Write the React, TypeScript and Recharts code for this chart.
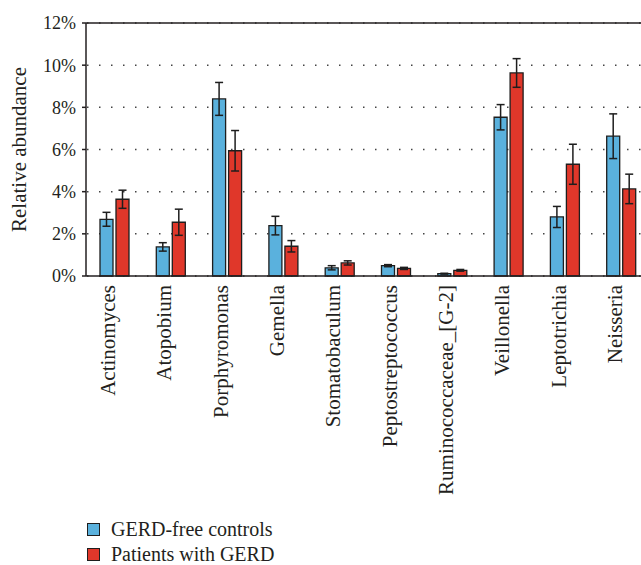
import React from "react"
import { BarChart, Bar, XAxis, YAxis, CartesianGrid, ErrorBar, ReferenceLine } from "recharts"

const genera = [
  "Actinomyces",
  "Atopobium",
  "Porphyromonas",
  "Gemella",
  "Stomatobaculum",
  "Peptostreptococcus",
  "Ruminococcaceae_[G-2]",
  "Veillonella",
  "Leptotrichia",
  "Neisseria",
]

// relative abundance in %, mean and error
const controls = [2.69, 1.38, 8.4, 2.39, 0.39, 0.49, 0.11, 7.53, 2.8, 6.63]
const controlsErr = [0.33, 0.2, 0.78, 0.44, 0.1, 0.05, 0.02, 0.6, 0.5, 1.06]
const patients = [3.64, 2.55, 5.94, 1.41, 0.62, 0.36, 0.27, 9.63, 5.3, 4.13]
const patientsErr = [0.43, 0.62, 0.96, 0.27, 0.1, 0.05, 0.04, 0.68, 0.95, 0.7]

const yTicks = [0, 2, 4, 6, 8, 10, 12]

const series = [
  { key: "controls", name: "GERD-free controls", color: "#5ab1dd" },
  { key: "patients", name: "Patients with GERD", color: "#e0372a" },
]

const data = genera.map((genus, i) => ({
  genus,
  controls: controls[i],
  controlsErr: controlsErr[i],
  patients: patients[i],
  patientsErr: patientsErr[i],
}))

const FONT = '"Liberation Serif", "Times New Roman", serif'
const INK = "#231f20"

const GenusTick = (props: any) => {
  const { x, y, payload } = props
  const tx = x + 1
  const ty = y + 1
  return (
    <text
      x={tx}
      y={ty}
      transform={`rotate(-90, ${tx}, ${ty})`}
      textAnchor="end"
      fontFamily={FONT}
      fontSize={21}
      fill={INK}
    >
      {payload.value}
    </text>
  )
}

const AxisTitle = (props: any) => {
  const { viewBox } = props
  const cx = viewBox.x + 26
  const cy = viewBox.y + viewBox.height / 2
  return (
    <text
      x={cx}
      y={cy}
      transform={`rotate(-90, ${cx}, ${cy})`}
      textAnchor="middle"
      fontFamily={FONT}
      fontSize={21}
      fill={INK}
    >
      Relative abundance
    </text>
  )
}

export default function App() {
  return (
    <div style={{ position: "absolute", left: 0, top: 0, width: 641, height: 565, overflow: "hidden", background: "#fff" }}>
      <BarChart
        width={660}
        height={520}
        data={data}
        margin={{ top: 23, right: 11, bottom: 0, left: 0 }}
        barSize={13}
        barGap={3}
      >
        <CartesianGrid
          vertical={false}
          stroke="#444"
          strokeWidth={1.5}
          strokeDasharray="1.5 10.5"
          strokeDashoffset={11}
        />
        <XAxis
          dataKey="genus"
          height={244}
          interval={0}
          tickLine={false}
          tick={<GenusTick />}
          stroke={INK}
          strokeWidth={1.5}
        />
        <YAxis
          width={86}
          domain={[0, 12]}
          ticks={yTicks}
          tickFormatter={(v: number) => `${v}%`}
          tickSize={4}
          tickMargin={6}
          tick={{ fontFamily: FONT, fontSize: 18, fill: INK }}
          stroke={INK}
          strokeWidth={1.5}
          label={<AxisTitle />}
        />
        <ReferenceLine y={12} stroke={INK} strokeWidth={1.5} />
        {series.map((s) => (
          <Bar
            key={s.key}
            dataKey={s.key}
            name={s.name}
            fill={s.color}
            stroke="#1e1e1e"
            strokeWidth={1.3}
            isAnimationActive={false}
          >
            <ErrorBar dataKey={`${s.key}Err`} width={4} stroke="#1e1e1e" strokeWidth={1.5} />
          </Bar>
        ))}
      </BarChart>
      {/* legend, stacked under the plot */}
      <div style={{ position: "absolute", left: 87, top: 520, fontFamily: FONT, fontSize: 20, lineHeight: "18px", color: INK }}>
        {series.map((s) => (
          <div key={s.key} style={{ display: "flex", alignItems: "center", height: 18, marginBottom: 7 }}>
            <span
              style={{
                width: 11,
                height: 11,
                background: s.color,
                border: "1px solid #1e1e1e",
                marginRight: 11,
                display: "inline-block",
              }}
            />
            <span>{s.name}</span>
          </div>
        ))}
      </div>
    </div>
  )
}
